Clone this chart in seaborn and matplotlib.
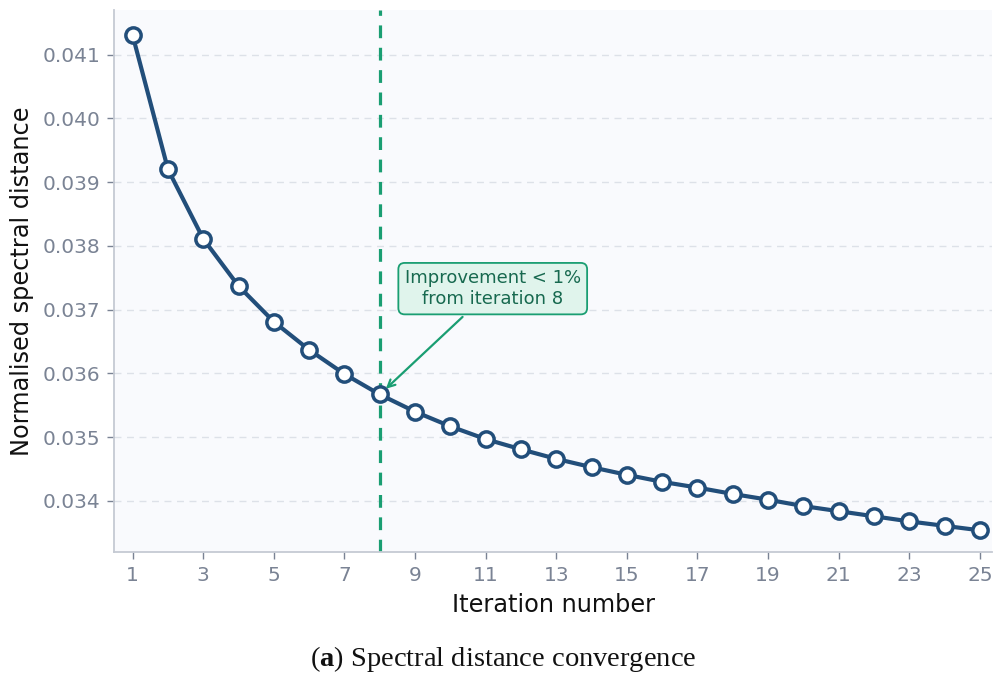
import numpy as np
import pandas as pd
import seaborn as sns
import matplotlib.pyplot as plt

# values
iterations = list(range(1, 26))
distance = [0.04130, 0.03920, 0.03811, 0.03737, 0.03681, 0.03637, 0.03599, 0.03567,
            0.03540, 0.03517, 0.03497, 0.03481, 0.03466, 0.03453, 0.03441, 0.03430,
            0.03421, 0.03411, 0.03402, 0.03392, 0.03384, 0.03376, 0.03368, 0.03361,
            0.03354]
y_ticks = [0.034, 0.035, 0.036, 0.037, 0.038, 0.039, 0.040, 0.041]
x_ticks = list(range(1, 26, 2))
stop_iter = 8

df = pd.DataFrame({"iteration": iterations, "distance": distance})

sns.set_theme(style="white")
plt.rcParams["font.family"] = ["DejaVu Sans"]
plt.rcParams["mathtext.fontset"] = "custom"
plt.rcParams["mathtext.bf"] = "Liberation Serif:bold"
plt.rcParams["mathtext.rm"] = "Liberation Serif"

line_col = "#224e7a"
green = "#1a9e72"
tick_col = "#7a8394"
spine_col = "#c5cad3"

fig = plt.figure(figsize=(10.06, 6.84), dpi=100)
ax = fig.add_axes([0.1133, 0.193, 0.873, 0.7924])
ax.set_facecolor("#f9fafd")

sns.lineplot(data=df, x="iteration", y="distance", ax=ax, color=line_col,
             linewidth=3.0, marker="o", markersize=11, markerfacecolor="white",
             markeredgecolor=line_col, markeredgewidth=2.5, zorder=3)

ax.axvline(stop_iter, color=green, linestyle=(0, (4, 3)), linewidth=2.3, zorder=2)

stop_val = distance[iterations.index(stop_iter)]
ax.annotate("Improvement < 1%\nfrom iteration 8", xy=(stop_iter, stop_val),
            xytext=(11.2, 0.03733), ha="center", va="center", fontsize=13,
            color="#17694f",
            bbox=dict(boxstyle="round,pad=0.35", facecolor="#e0f4ec",
                      edgecolor=green, linewidth=1.3),
            arrowprops=dict(arrowstyle="->", color=green, lw=1.6,
                            shrinkA=2, shrinkB=6), zorder=4)

ax.set_xlim(0.47, 25.35)
ax.set_ylim(0.0332, 0.0417)
ax.set_xticks(x_ticks)
ax.set_yticks(y_ticks)
ax.set_yticklabels([f"{v:.3f}" for v in y_ticks])
ax.yaxis.grid(True, linestyle=(0, (5, 4)), color="#dde1e8", linewidth=1.0)
ax.xaxis.grid(False)

ax.tick_params(axis="both", colors=tick_col, labelsize=14.5, length=5,
               width=1.0, left=True, bottom=True, pad=5)
for side in ["top", "right"]:
    ax.spines[side].set_visible(False)
for side in ["left", "bottom"]:
    ax.spines[side].set_color(spine_col)
    ax.spines[side].set_linewidth(1.3)

ax.set_xlabel("Iteration number", fontsize=17.3, color="#111111", labelpad=6)
ax.set_ylabel("Normalised spectral distance", fontsize=17.3, color="#111111",
              labelpad=6)

fig.text(0.5, 0.036, r"($\mathbf{a}$) Spectral distance convergence",
         ha="center", va="center", fontsize=20.5, family="Liberation Serif",
         color="#111111")

fig.savefig("out.png", dpi=100)
